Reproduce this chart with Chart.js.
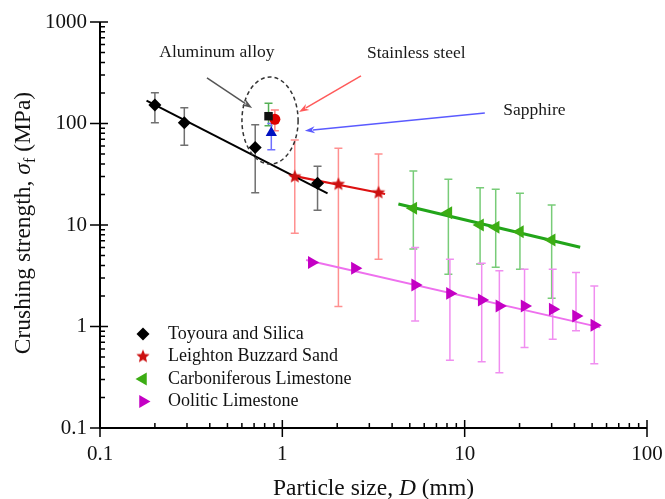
<!DOCTYPE html>
<html lang="en">
<head>
  <meta charset="UTF-8">
  <title>Crushing strength vs particle size</title>
  <style>
    html, body { margin: 0; padding: 0; background: #fff; }
    #wrap { width: 665px; height: 499px; }
  </style>
  <script src="https://cdn.jsdelivr.net/npm/chart.js"></script>
</head>
<body>
  <div id="wrap"><canvas id="crushChart" width="665" height="499"></canvas></div>

  <script>
    // tick labels
    const xTicks = [0.1, 1, 10, 100];
    const yTicks = [0.1, 1, 10, 100, 1000];

    // Toyoura and Silica
    const toyD  = [0.20, 0.29, 0.71, 1.56];
    const toyS  = [152, 102, 58, 25.8];
    const toyLo = [102, 61, 20.8, 14];
    const toyHi = [201, 143, 97, 38];
    const toyFitD = [0.18, 1.77];
    const toyFitS = [168, 20.5];

    // Leighton Buzzard Sand
    const lbsD  = [1.17, 2.03, 3.37];
    const lbsS  = [29.9, 25.2, 20.8];
    const lbsLo = [8.3, 1.57, 4.6];
    const lbsHi = [68.7, 57, 50];
    const lbsFitD = [1.1, 3.66];
    const lbsFitS = [31, 20.2];

    // Carboniferous Limestone
    const carD  = [5.23, 8.14, 12.15, 14.8, 20.1, 30.0];
    const carS  = [14.6, 13.2, 10.0, 9.5, 8.6, 7.1];
    const carLo = [5.8, 3.27, 4.13, 3.83, 3.67, 1.9];
    const carHi = [34, 28.2, 23.3, 22.5, 20.5, 15.7];
    const carFitD = [4.33, 43];
    const carFitS = [16.1, 6.03];

    // Oolitic Limestone
    const oolD  = [1.45, 2.5, 5.35, 8.3, 12.4, 15.5, 21.3, 30.4, 40.8, 51.4];
    const oolS  = [4.26, 3.74, 2.56, 2.12, 1.82, 1.59, 1.59, 1.48, 1.27, 1.03];
    const oolLo = [null, null, 1.13, 0.465, 0.45, 0.35, 0.62, 0.75, 0.91, 0.43];
    const oolHi = [null, null, 6.0, 4.6, 4.2, 3.55, 3.67, 3.67, 3.4, 2.5];
    const oolFitD = [1.35, 55.4];
    const oolFitS = [4.52, 0.98];

    // metals (aluminum alloy, stainless steel, sapphire)
    const aluD = [0.84], aluS = [118], aluLo = [95], aluHi = [158];
    const ssD  = [0.91], ssS  = [110], ssLo  = [85], ssHi  = [136];
    const sapD = [0.87], sapS = [81],  sapLo = [55], sapHi = [100];

    const serif = "'Liberation Serif', 'Times New Roman', serif";

    function pts(xs, ys) {
      return xs.map((x, i) => ({ x: x, y: ys[i] }));
    }

    // filled five point star
    function makeStar(r, color) {
      const c = document.createElement('canvas');
      const s = Math.ceil(r * 2 + 2);
      c.width = s; c.height = s;
      const g = c.getContext('2d');
      g.fillStyle = color;
      g.beginPath();
      for (let i = 0; i < 10; i++) {
        const rr = i % 2 === 0 ? r : r * 0.45;
        const a = -Math.PI / 2 + i * Math.PI / 5;
        const px = s / 2 + Math.cos(a) * rr, py = s / 2 + Math.sin(a) * rr;
        if (i === 0) g.moveTo(px, py); else g.lineTo(px, py);
      }
      g.closePath();
      g.fill();
      return c;
    }
    const starImg = makeStar(7, '#cc1010');

    function fitLine(xs, ys, color, w) {
      return {
        data: pts(xs, ys), showLine: true, pointRadius: 0, borderColor: color,
        borderWidth: w, order: 5, fill: false
      };
    }

    const datasets = [
      fitLine(toyFitD, toyFitS, '#000000', 2),
      fitLine(lbsFitD, lbsFitS, '#dd1111', 2.2),
      fitLine(carFitD, carFitS, '#22a51a', 3),
      fitLine(oolFitD, oolFitS, '#ee70ee', 2),
      {
        label: 'Toyoura and Silica', data: pts(toyD, toyS), pointStyle: 'rectRot', pointRadius: 6.5,
        backgroundColor: '#000', borderColor: '#000', borderWidth: 0,
        errLo: toyLo, errHi: toyHi, errColor: '#707070', legend: true
      },
      {
        label: 'Leighton Buzzard Sand', data: pts(lbsD, lbsS), pointStyle: starImg,
        backgroundColor: '#cc1010', borderColor: '#cc1010',
        errLo: lbsLo, errHi: lbsHi, errColor: '#ff9090', legend: true
      },
      {
        label: 'Carboniferous Limestone', data: pts(carD, carS), pointStyle: 'triangle', rotation: -90,
        pointRadius: 7.5, backgroundColor: '#3cad14', borderColor: '#3cad14', borderWidth: 0,
        errLo: carLo, errHi: carHi, errColor: '#78cc78', legend: true
      },
      {
        label: 'Oolitic Limestone', data: pts(oolD, oolS), pointStyle: 'triangle', rotation: 90,
        pointRadius: 7.5, backgroundColor: '#c400c4', borderColor: '#c400c4', borderWidth: 0,
        errLo: oolLo, errHi: oolHi, errColor: '#f08ef0', legend: true
      },
      {
        label: 'Aluminum alloy', data: pts(aluD, aluS), pointStyle: 'rect', pointRadius: 6,
        backgroundColor: '#111', borderColor: '#111', borderWidth: 0,
        errLo: aluLo, errHi: aluHi, errColor: '#55b055'
      },
      {
        label: 'Stainless steel', data: pts(ssD, ssS), pointStyle: 'circle', pointRadius: 5.5,
        backgroundColor: '#dd0000', borderColor: '#dd0000', borderWidth: 0,
        errLo: ssLo, errHi: ssHi, errColor: '#ff8080'
      },
      {
        label: 'Sapphire', data: pts(sapD, sapS), pointStyle: 'triangle', pointRadius: 6.5,
        backgroundColor: '#0010c0', borderColor: '#0010c0', borderWidth: 0,
        errLo: sapLo, errHi: sapHi, errColor: '#7070ff'
      }
    ];

    // annotations in data units
    const ellipse = { x: 0.856, y: 107, dx: 0.154, dy: 0.429 };
    const arrows = [
      { x0: 0.386, y0: 281, x1: 0.683, y1: 142, color: '#555555' },
      { x0: 2.7, y0: 294, x1: 1.235, y1: 130, color: '#ff5a5a' },
      { x0: 12.9, y0: 127, x1: 1.33, y1: 85, color: '#5a5aff' }
    ];
    const notes = [
      { text: 'Aluminum alloy', x: 0.438, y: 506, align: 'center' },
      { text: 'Stainless steel', x: 2.91, y: 495, align: 'left' },
      { text: 'Sapphire', x: 16.3, y: 136, align: 'left' }
    ];

    function drawArrow(ctx, x0, y0, x1, y1, color) {
      const a = Math.atan2(y1 - y0, x1 - x0);
      const hl = 10, hw = 3.5;
      ctx.strokeStyle = color; ctx.fillStyle = color; ctx.lineWidth = 1.5;
      ctx.beginPath();
      ctx.moveTo(x0, y0);
      ctx.lineTo(x1 - Math.cos(a) * hl * 0.8, y1 - Math.sin(a) * hl * 0.8);
      ctx.stroke();
      ctx.beginPath();
      ctx.moveTo(x1, y1);
      ctx.lineTo(x1 - Math.cos(a) * hl - Math.sin(a) * hw, y1 - Math.sin(a) * hl + Math.cos(a) * hw);
      ctx.lineTo(x1 - Math.cos(a) * hl * 0.7, y1 - Math.sin(a) * hl * 0.7);
      ctx.lineTo(x1 - Math.cos(a) * hl + Math.sin(a) * hw, y1 - Math.sin(a) * hl - Math.cos(a) * hw);
      ctx.closePath();
      ctx.fill();
    }

    function drawMarker(ctx, ds, x, y) {
      if (ds.pointStyle instanceof HTMLCanvasElement) {
        ctx.drawImage(ds.pointStyle, x - ds.pointStyle.width / 2, y - ds.pointStyle.height / 2);
        return;
      }
      ctx.fillStyle = ds.backgroundColor;
      ctx.strokeStyle = ds.borderColor;
      Chart.helpers.drawPoint(ctx, {
        pointStyle: ds.pointStyle, radius: ds.pointRadius, rotation: ds.rotation || 0, borderWidth: 0
      }, x, y);
    }

    const decorPlugin = {
      id: 'decor',
      beforeDatasetsDraw(chart) {
        const ctx = chart.ctx, xs = chart.scales.x, ys = chart.scales.y;
        ctx.save();
        chart.data.datasets.forEach(ds => {
          if (!ds.errLo) return;
          ctx.strokeStyle = ds.errColor;
          ctx.lineWidth = 1.5;
          ds.data.forEach((p, i) => {
            const lo = ds.errLo[i], hi = ds.errHi[i];
            if (lo == null) return;
            const px = xs.getPixelForValue(p.x);
            const pLo = ys.getPixelForValue(lo), pHi = ys.getPixelForValue(hi);
            ctx.beginPath();
            ctx.moveTo(px, pLo); ctx.lineTo(px, pHi);
            ctx.moveTo(px - 4, pLo); ctx.lineTo(px + 4, pLo);
            ctx.moveTo(px - 4, pHi); ctx.lineTo(px + 4, pHi);
            ctx.stroke();
          });
        });
        ctx.restore();
      },
      afterDatasetsDraw(chart) {
        const ctx = chart.ctx, xs = chart.scales.x, ys = chart.scales.y;
        const area = chart.chartArea;
        ctx.save();

        // axes
        ctx.strokeStyle = '#000';
        ctx.lineWidth = 2;
        ctx.beginPath();
        ctx.moveTo(area.left, area.top);
        ctx.lineTo(area.left, area.bottom);
        ctx.lineTo(area.right, area.bottom);
        ctx.stroke();
        ctx.lineWidth = 1.5;
        ctx.beginPath();
        yTicks.forEach(v => {
          const py = ys.getPixelForValue(v);
          ctx.moveTo(area.left - 10, py); ctx.lineTo(area.left + 8, py);
          if (v < yTicks[yTicks.length - 1]) {
            for (let m = 2; m <= 9; m++) {
              const q = ys.getPixelForValue(v * m);
              ctx.moveTo(area.left, q); ctx.lineTo(area.left + 5, q);
            }
          }
        });
        xTicks.forEach(v => {
          const px = xs.getPixelForValue(v);
          ctx.moveTo(px, area.bottom + 9); ctx.lineTo(px, area.bottom - 8);
          if (v < xTicks[xTicks.length - 1]) {
            for (let m = 2; m <= 9; m++) {
              const q = xs.getPixelForValue(v * m);
              ctx.moveTo(q, area.bottom); ctx.lineTo(q, area.bottom - 5);
            }
          }
        });
        ctx.stroke();

        // dashed ellipse
        const ex = xs.getPixelForValue(ellipse.x), ey = ys.getPixelForValue(ellipse.y);
        const rx = xs.getPixelForValue(ellipse.x * Math.pow(10, ellipse.dx)) - ex;
        const ry = ey - ys.getPixelForValue(ellipse.y * Math.pow(10, ellipse.dy));
        ctx.strokeStyle = '#333';
        ctx.lineWidth = 1.5;
        ctx.setLineDash([4, 3]);
        ctx.beginPath();
        ctx.ellipse(ex, ey, rx, ry, 0, 0, Math.PI * 2);
        ctx.stroke();
        ctx.setLineDash([]);

        // arrows
        arrows.forEach(a => {
          drawArrow(ctx, xs.getPixelForValue(a.x0), ys.getPixelForValue(a.y0),
            xs.getPixelForValue(a.x1), ys.getPixelForValue(a.y1), a.color);
        });

        // notes
        ctx.fillStyle = '#1a1a1a';
        ctx.font = '17.5px ' + serif;
        ctx.textBaseline = 'middle';
        notes.forEach(n => {
          ctx.textAlign = n.align;
          ctx.fillText(n.text, xs.getPixelForValue(n.x), ys.getPixelForValue(n.y));
        });

        // legend
        const legendSets = chart.data.datasets.filter(d => d.legend);
        ctx.font = '18px ' + serif;
        ctx.textAlign = 'left';
        legendSets.forEach((ds, i) => {
          const ly = 334 + i * 22.5;
          drawMarker(ctx, ds, 143, ly);
          ctx.fillStyle = '#111';
          ctx.fillText(ds.label, 168, ly);
        });

        // axis titles
        ctx.fillStyle = '#111';
        ctx.textBaseline = 'alphabetic';
        const fN = '23.5px ' + serif, fI = 'italic 23.5px ' + serif, fS = '16px ' + serif;
        const xParts = [['Particle size, ', fN, 0], ['D', fI, 0], [' (mm)', fN, 0]];
        const yParts = [['Crushing strength, ', fN, 0], ['σ', fI, 0], ['f', fS, 5], [' (MPa)', fN, 0]];
        function drawParts(parts, cx, baseY) {
          let total = 0;
          parts.forEach(p => { ctx.font = p[1]; total += ctx.measureText(p[0]).width; });
          let x = cx - total / 2;
          parts.forEach(p => {
            ctx.font = p[1];
            ctx.fillText(p[0], x, baseY + p[2]);
            x += ctx.measureText(p[0]).width;
          });
        }
        ctx.textAlign = 'left';
        drawParts(xParts, (area.left + area.right) / 2, 495);
        ctx.translate(30, (area.top + area.bottom) / 2 - 2);
        ctx.rotate(-Math.PI / 2);
        drawParts(yParts, 0, 0);

        ctx.restore();
      }
    };

    const ctx = document.getElementById('crushChart').getContext('2d');
    const crushChart = new Chart(ctx, {
      type: 'scatter',
      data: { datasets: datasets },
      options: {
        responsive: false,
        animation: false,
        layout: { padding: { top: 22, right: 18, left: 0, bottom: 0 } },
        plugins: { legend: { display: false }, tooltip: { enabled: false } },
        elements: { line: { tension: 0 } },
        scales: {
          x: {
            type: 'logarithmic', min: 0.1, max: 100,
            grid: { display: false, drawTicks: false },
            border: { display: false },
            afterBuildTicks: s => { s.ticks = xTicks.map(v => ({ value: v })); },
            afterFit: s => { s.height = 71; s.paddingLeft = 0; s.paddingRight = 0; },
            ticks: {
              autoSkip: false, maxRotation: 0, padding: 14, color: '#111',
              font: { family: serif, size: 21 },
              callback: v => String(v)
            }
          },
          y: {
            type: 'logarithmic', min: 0.1, max: 1000,
            grid: { display: false, drawTicks: false },
            border: { display: false },
            afterBuildTicks: s => { s.ticks = yTicks.map(v => ({ value: v })); },
            afterFit: s => { s.width = 100; s.paddingTop = 0; s.paddingBottom = 0; },
            ticks: {
              autoSkip: false, padding: 13, color: '#111',
              font: { family: serif, size: 21 },
              callback: v => String(v)
            }
          }
        }
      },
      plugins: [decorPlugin]
    });
  </script>
</body>
</html>
